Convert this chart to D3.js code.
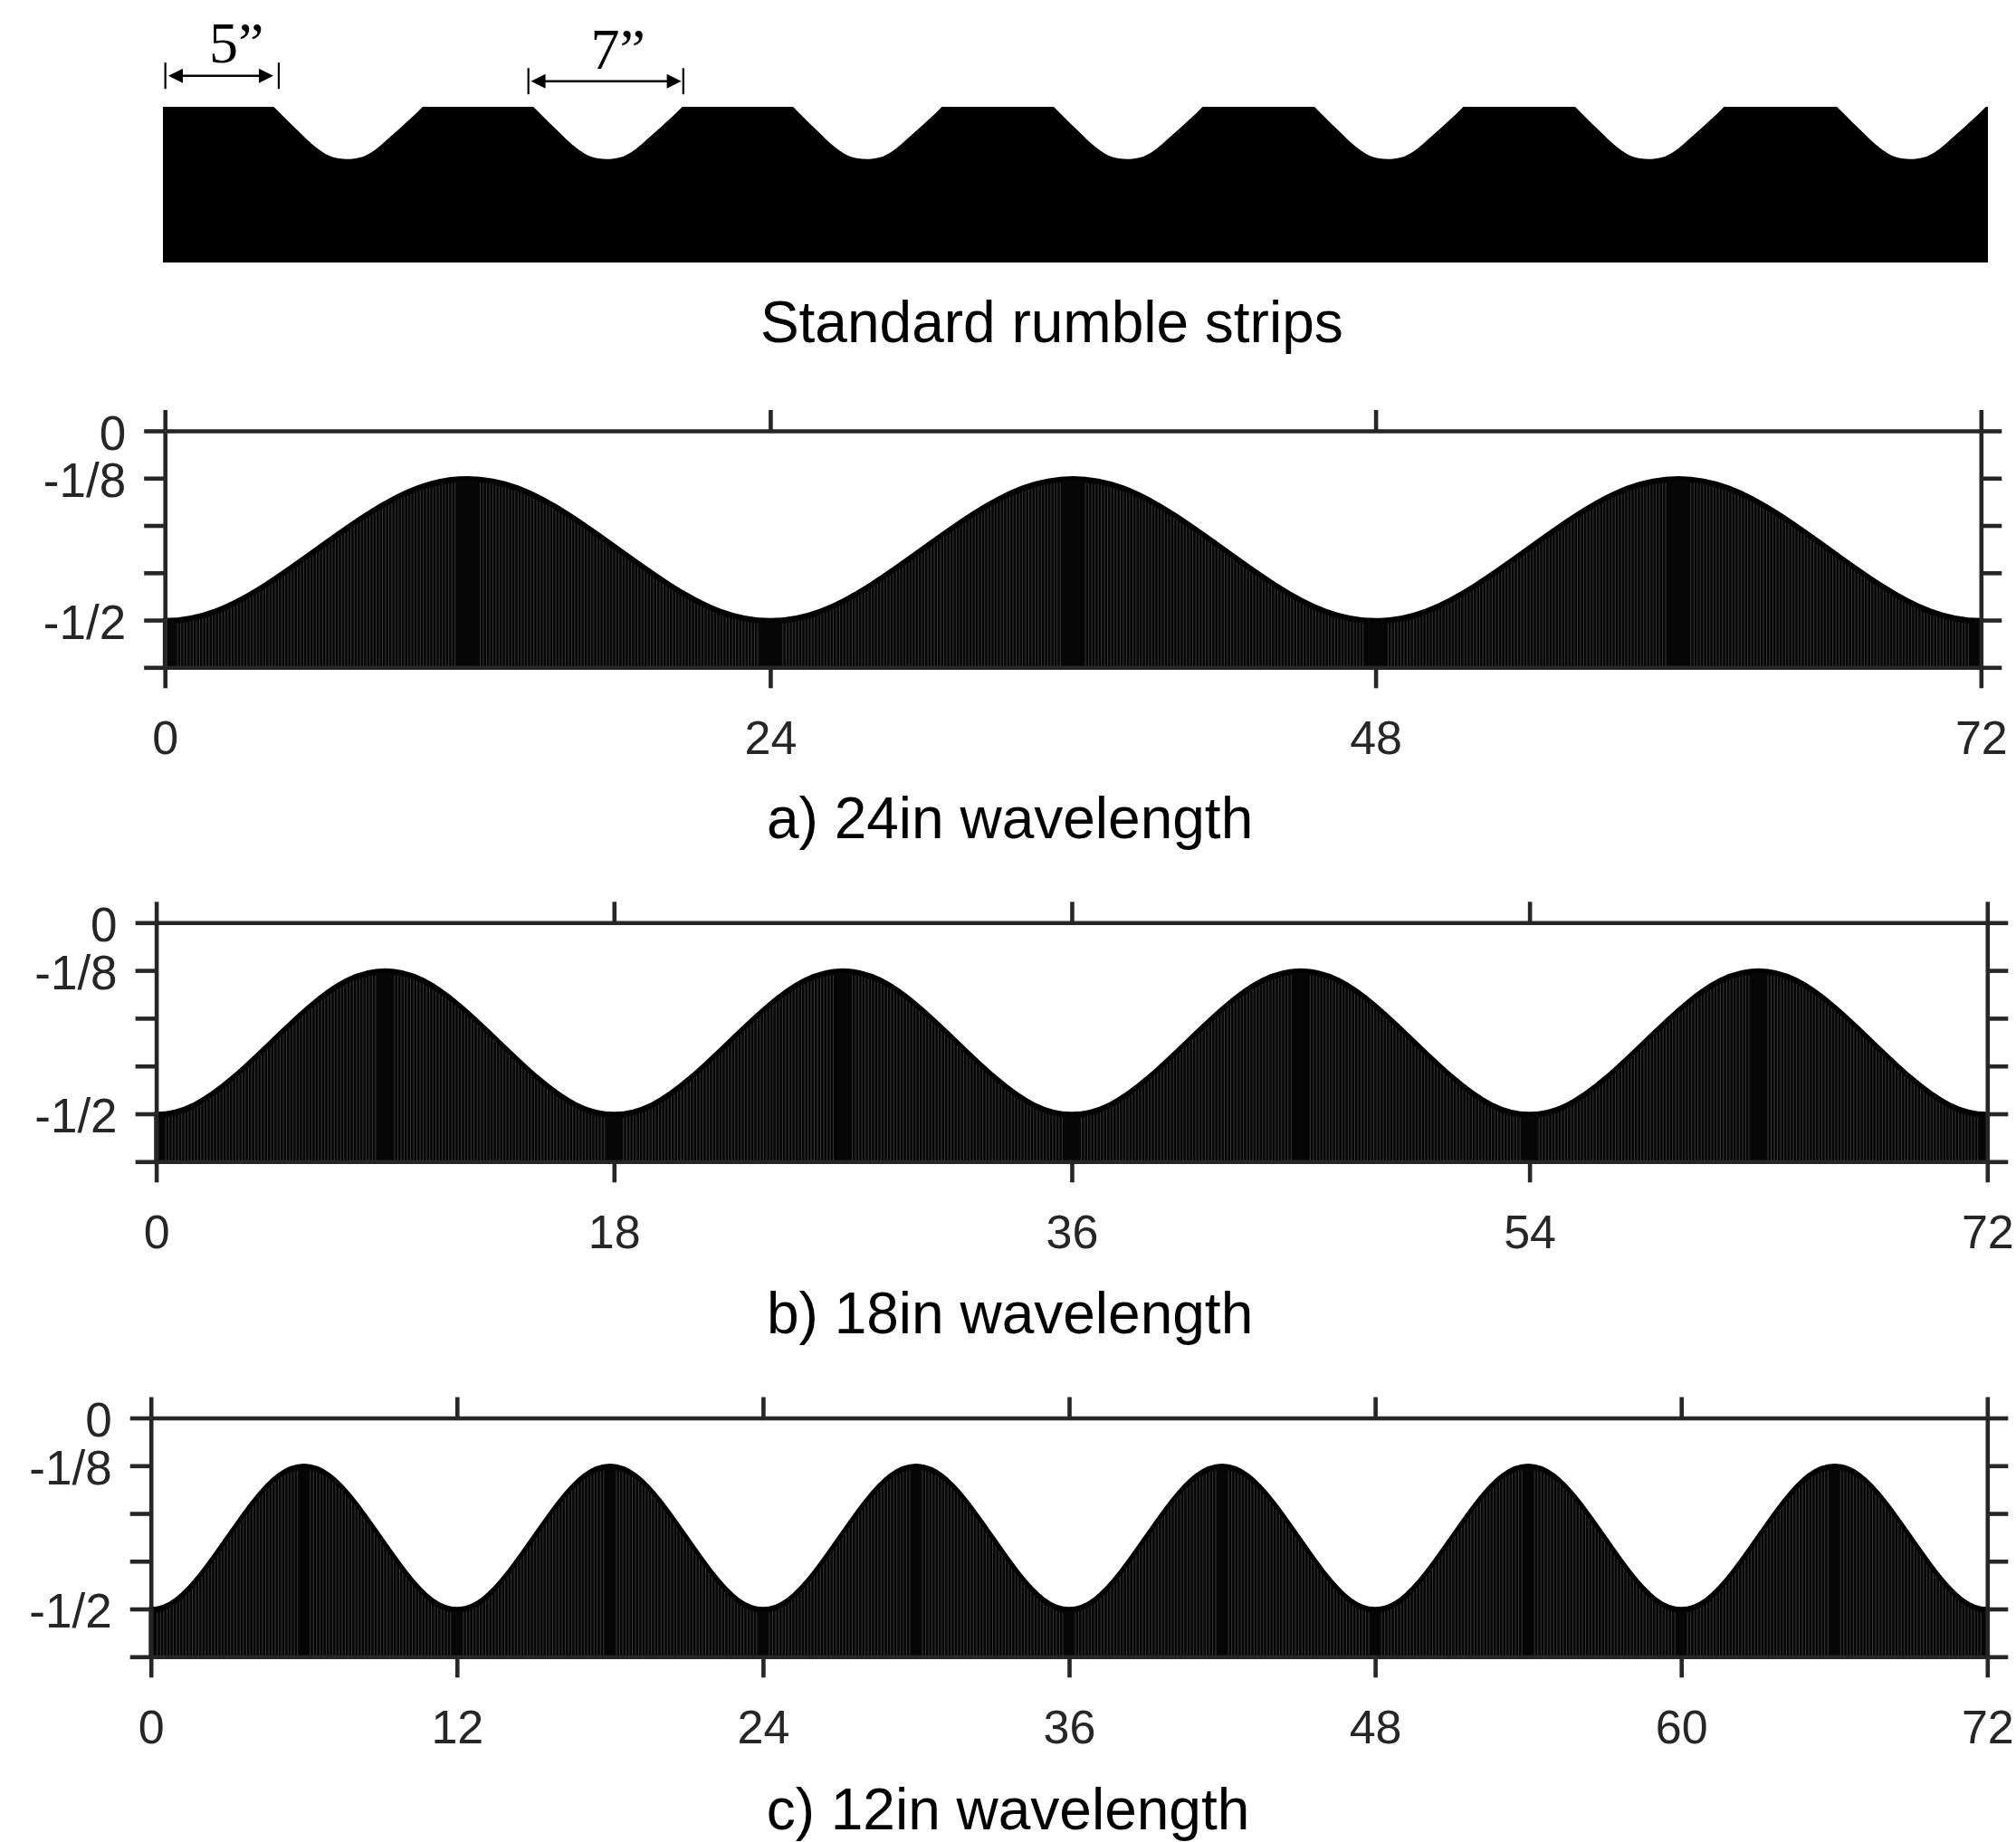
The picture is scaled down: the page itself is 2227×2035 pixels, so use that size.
<!DOCTYPE html>
<html>
<head>
<meta charset="utf-8">
<script src="https://cdn.jsdelivr.net/npm/d3@7"></script>
<style>
    body { margin: 0; background: #fff; }
    text { font-family: "Liberation Sans", Arial, sans-serif; }
</style>
</head>
<body>
<svg id="chart" width="2227" height="2035"></svg>
<script>
// top strip, in inches along the road
const grooveStarts = [5.1, 17.05, 29, 41, 53, 65, 77.05];
const grooveOffsets = [0, 0.5, 1, 1.5, 2, 2.5, 3, 3.5, 4, 4.5, 5, 5.5, 6, 6.5, 6.85];
const grooveDepths = [0, -0.078, -0.155, -0.23, -0.298, -0.348, -0.371, -0.375, -0.363, -0.326, -0.266, -0.197, -0.126, -0.055, 0];
const dimLabels = ['5”', '7”'];
const dimFrom = [0.11, 16.82];
const dimTo = [5.33, 23.95];
const dimTipFrom = [0.25, 16.94];
const dimTipTo = [5.08, 23.86];
const dimLabelAt = [3.38, 20.95];

// surface height read every 1/12 of a wavelength
const depth24 = [
    -0.5, -0.475, -0.405, -0.3125, -0.22, -0.15, -0.125, -0.15, -0.22, -0.3125, -0.405, -0.475,
    -0.5, -0.475, -0.405, -0.3125, -0.22, -0.15, -0.125, -0.15, -0.22, -0.3125, -0.405, -0.475,
    -0.5, -0.475, -0.405, -0.3125, -0.22, -0.15, -0.125, -0.15, -0.22, -0.3125, -0.405, -0.475,
    -0.5
];
const depth18 = [
    -0.5, -0.475, -0.405, -0.3125, -0.22, -0.15, -0.125, -0.15, -0.22, -0.3125, -0.405, -0.475,
    -0.5, -0.475, -0.405, -0.3125, -0.22, -0.15, -0.125, -0.15, -0.22, -0.3125, -0.405, -0.475,
    -0.5, -0.475, -0.405, -0.3125, -0.22, -0.15, -0.125, -0.15, -0.22, -0.3125, -0.405, -0.475,
    -0.5, -0.475, -0.405, -0.3125, -0.22, -0.15, -0.125, -0.15, -0.22, -0.3125, -0.405, -0.475,
    -0.5
];
const depth12 = [
    -0.5, -0.475, -0.405, -0.3125, -0.22, -0.15, -0.125, -0.15, -0.22, -0.3125, -0.405, -0.475,
    -0.5, -0.475, -0.405, -0.3125, -0.22, -0.15, -0.125, -0.15, -0.22, -0.3125, -0.405, -0.475,
    -0.5, -0.475, -0.405, -0.3125, -0.22, -0.15, -0.125, -0.15, -0.22, -0.3125, -0.405, -0.475,
    -0.5, -0.475, -0.405, -0.3125, -0.22, -0.15, -0.125, -0.15, -0.22, -0.3125, -0.405, -0.475,
    -0.5, -0.475, -0.405, -0.3125, -0.22, -0.15, -0.125, -0.15, -0.22, -0.3125, -0.405, -0.475,
    -0.5, -0.475, -0.405, -0.3125, -0.22, -0.15, -0.125, -0.15, -0.22, -0.3125, -0.405, -0.475,
    -0.5
];

const xTicks24 = [0, 24, 48, 72];
const xTicks18 = [0, 18, 36, 54, 72];
const xTicks12 = [0, 12, 24, 36, 48, 60, 72];
const yTicks = [0, -1/8, -2/8, -3/8, -4/8, -5/8];
const yLabels = ['0', '-1/8', '', '', '-1/2', ''];

const inkColor = '#262626';
const svg = d3.select('#chart');

function drawStrip() {
    const x = d3.scaleLinear().domain([0, 84]).range([180, 2196]);
    const y = d3.scaleLinear().domain([0, -0.375]).range([118, 175.7]);
    const baseY = 290;

    svg.append('rect')
        .attr('x', x(0))
        .attr('y', y(0))
        .attr('width', x(84) - x(0))
        .attr('height', baseY - y(0))
        .attr('fill', '#000');

    let groove = d3.area()
        .x(d => x(d.t))
        .y0(y(0) - 1)
        .y1(d => y(d.depth))
        .curve(d3.curveNatural);

    grooveStarts.forEach(start => {
        let points = grooveOffsets.map((off, i) => ({ t: start + off, depth: grooveDepths[i] }));
        svg.append('path').attr('d', groove(points)).attr('fill', '#fff');
    });

    const dimY = [83.7, 89.7];
    const labelY = [69, 76];
    dimLabels.forEach((label, i) => {
        let g = svg.append('g');
        [dimFrom[i], dimTo[i]].forEach(v => {
            g.append('line')
                .attr('x1', x(v)).attr('x2', x(v))
                .attr('y1', dimY[i] - 14.5).attr('y2', dimY[i] + 14.5)
                .attr('stroke', '#000').attr('stroke-width', 2.2);
        });
        g.append('line')
            .attr('x1', x(dimTipFrom[i]) + 8).attr('x2', x(dimTipTo[i]) - 8)
            .attr('y1', dimY[i]).attr('y2', dimY[i])
            .attr('stroke', '#000').attr('stroke-width', 2.4);
        g.append('path')
            .attr('d', `M${x(dimTipFrom[i])},${dimY[i]}l16,-8v16z`);
        g.append('path')
            .attr('d', `M${x(dimTipTo[i])},${dimY[i]}l-16,-8v16z`);
        g.append('text')
            .attr('x', x(dimLabelAt[i]))
            .attr('y', labelY[i])
            .attr('text-anchor', 'middle')
            .style('font-family', '"Liberation Serif", "Times New Roman", serif')
            .style('font-size', '64px')
            .text(label);
    });
}

function drawPanel(p, idx) {
    const x = d3.scaleLinear().domain([0, 72]).range(p.xRange);
    const y = d3.scaleLinear().domain([0, -5/8]).range(p.yRange);
    const step = p.wavelength / 12;
    const n = p.depths.length - 1;
    const points = p.depths.map((d, i) => ({ pos: i * step, depth: d }));

    // mirror a few samples past each end so the spline stays flat at 0 and 72, then clip them off
    const lead = [3, 2, 1].map(i => ({ pos: -i * step, depth: p.depths[i] }));
    const tail = [1, 2, 3].map(i => ({ pos: (n + i) * step, depth: p.depths[n - i] }));
    const padded = lead.concat(points, tail);

    let area = d3.area()
        .x(d => x(d.pos))
        .y0(y(-5/8))
        .y1(d => y(d.depth))
        .curve(d3.curveNatural);

    svg.append('clipPath').attr('id', 'box' + idx)
        .append('rect')
        .attr('x', x(0) - 2.3)
        .attr('y', y(0))
        .attr('width', x(72) - x(0) + 4.6)
        .attr('height', y(-5/8) - y(0));

    svg.append('path')
        .attr('d', area(padded))
        .attr('clip-path', `url(#box${idx})`)
        .attr('fill', '#060606')
        .attr('stroke', '#000')
        .attr('stroke-width', 4.6)
        .attr('stroke-linejoin', 'miter');

    // the stems leave thin grey gaps, except around crests and troughs
    svg.append('clipPath').attr('id', 'stems' + idx)
        .append('path')
        .attr('d', area(padded))
        .attr('transform', 'translate(0,4.5)');

    let stems = d3.range(0, 72.01, 1/8).filter(v => {
        let half = p.wavelength / 2;
        let off = Math.abs(v - Math.round(v / half) * half);
        return off > p.band;
    });

    svg.append('g')
        .attr('clip-path', `url(#stems${idx})`)
        .selectAll('line')
        .data(stems)
        .join('line')
        .attr('x1', d => x(d)).attr('x2', d => x(d))
        .attr('y1', y(0)).attr('y2', y(-5/8))
        .attr('stroke', '#636363')
        .attr('stroke-width', 0.55);

    const tickLen = 23;
    const axes = [
        d3.axisTop(x).tickValues(p.xTicks).tickFormat('').tickSize(tickLen).tickSizeOuter(0),
        d3.axisBottom(x).tickValues(p.xTicks).tickFormat(d3.format('d')).tickSize(tickLen).tickSizeOuter(0).tickPadding(35.5),
        d3.axisLeft(y).tickValues(yTicks).tickFormat((d, i) => yLabels[i]).tickSize(tickLen).tickSizeOuter(0).tickPadding(20),
        d3.axisRight(y).tickValues(yTicks).tickFormat('').tickSize(tickLen).tickSizeOuter(0)
    ];
    const shifts = [
        [0, y(0)], [0, y(-5/8)], [x(0), 0], [x(72), 0]
    ];

    axes.forEach((axis, i) => {
        let g = svg.append('g')
            .attr('transform', `translate(${shifts[i][0]},${shifts[i][1]})`)
            .call(axis);
        g.selectAll('path, line').attr('stroke', inkColor).attr('stroke-width', 4.6);
        g.selectAll('text')
            .attr('fill', inkColor)
            .style('font-family', '"Liberation Sans", Arial, sans-serif')
            .style('font-size', i === 2 ? '53px' : '52px');
        if (i === 2) g.selectAll('text').attr('dy', '0.38em');
    });
}

drawStrip();

const panels = [
    { xRange: [182.2, 2188.3], yRange: [476, 737.3], wavelength: 24, depths: depth24, xTicks: xTicks24, band: 0.38 },
    { xRange: [172.6, 2195.3], yRange: [1019.3, 1283.3], wavelength: 18, depths: depth18, xTicks: xTicks18, band: 0.32 },
    { xRange: [166.7, 2195.3], yRange: [1566.5, 1830.3], wavelength: 12, depths: depth12, xTicks: xTicks12, band: 0.16 }
];
panels.forEach(drawPanel);

const captions = ['Standard rumble strips', 'a) 24in wavelength', 'b) 18in wavelength', 'c) 12in wavelength'];
const captionX = [1161.8, 1115.6, 1115.6, 1113.5];
const captionY = [378, 926, 1473, 2021];
captions.forEach((c, i) => {
    svg.append('text')
        .attr('x', captionX[i])
        .attr('y', captionY[i])
        .attr('text-anchor', 'middle')
        .attr('fill', '#000')
        .style('font-size', '64px')
        .text(c);
});
</script>
</body>
</html>
